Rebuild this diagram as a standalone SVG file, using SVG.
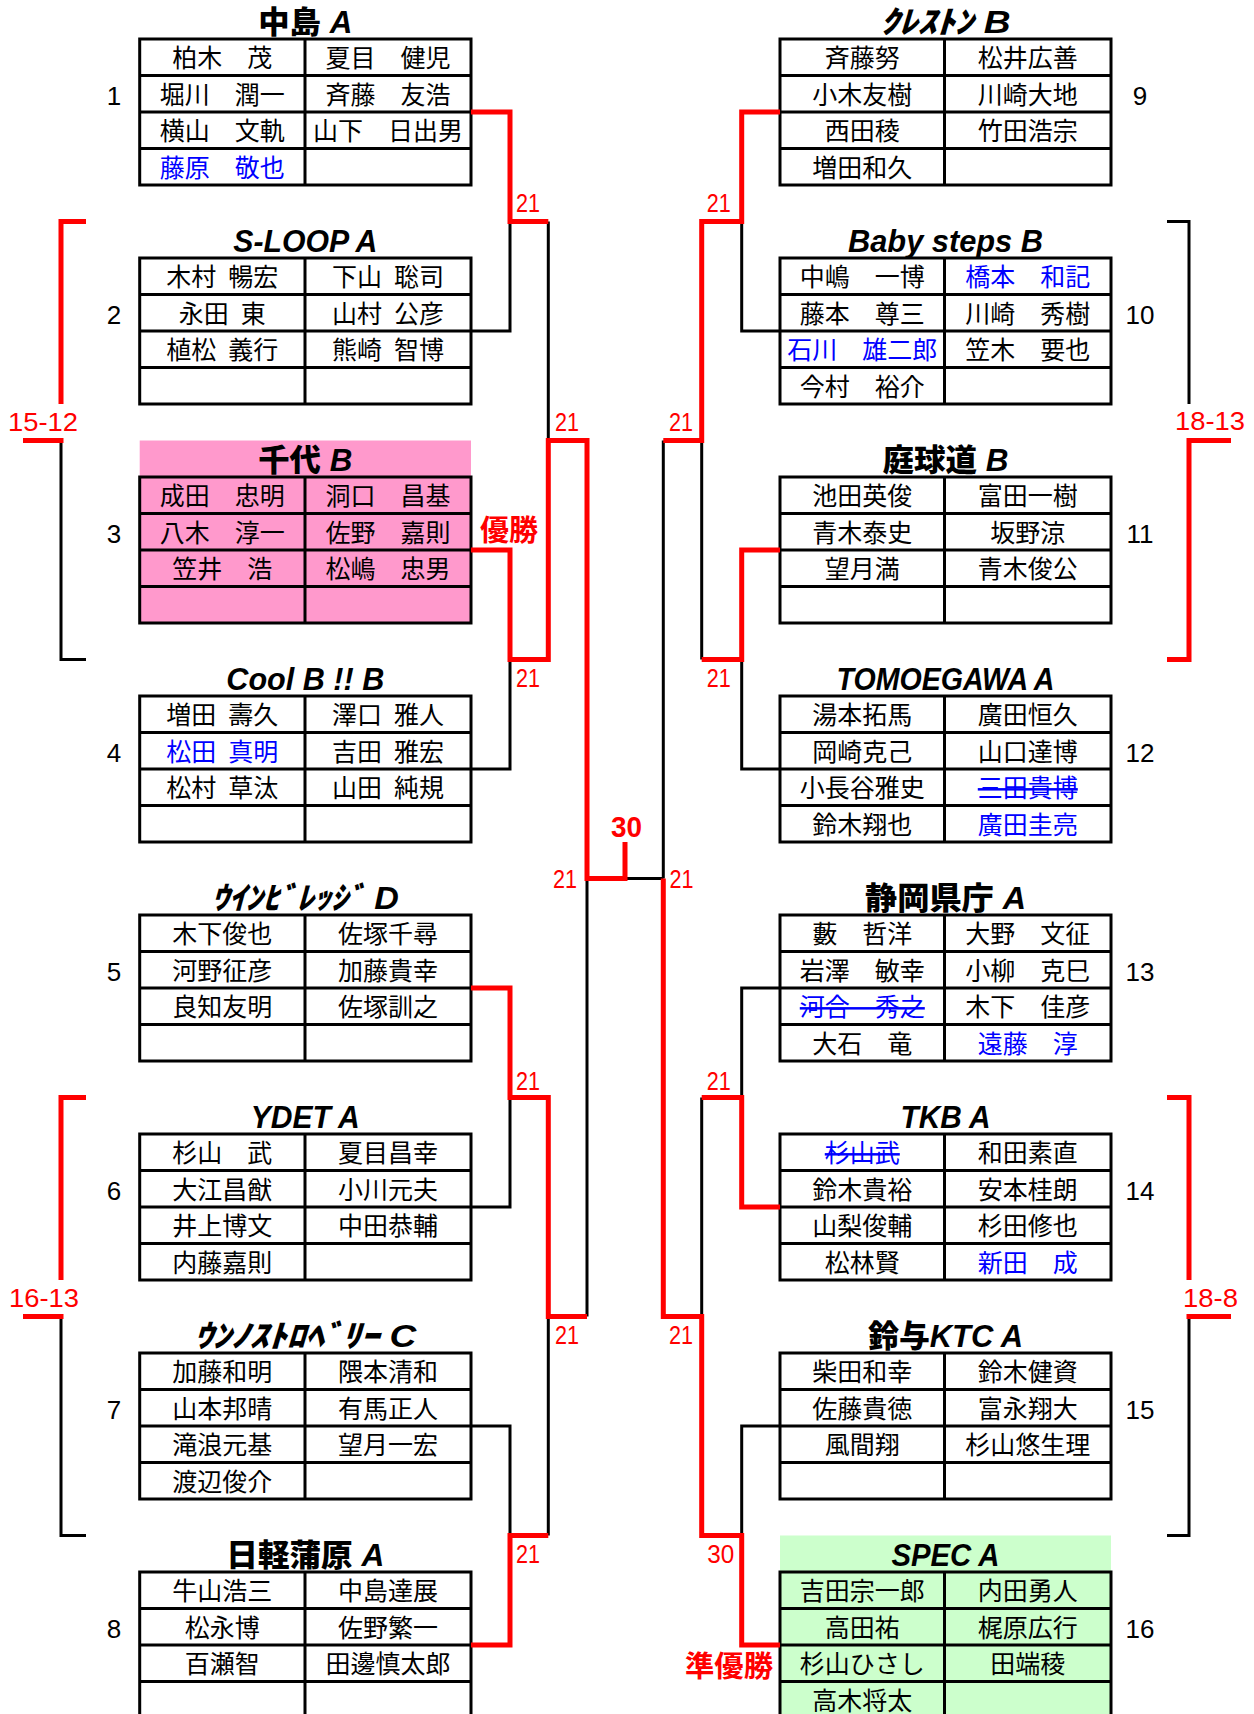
<svg xmlns="http://www.w3.org/2000/svg" width="1254" height="1714" viewBox="0 0 1254 1714">
<style>
text{font-family:"Liberation Sans","Noto Sans CJK JP",sans-serif}
.nm{font-size:25px;text-anchor:middle;fill:#000}
.bl{fill:#0000ff}
.st{text-decoration:line-through}
.hs{word-spacing:5px}
.ttl{font-size:31px;font-weight:900;text-anchor:middle;fill:#000}
.it{font-style:italic}
.num{font-size:26px;text-anchor:middle;fill:#000}
.sc{font-size:26px;fill:#ff0000;text-anchor:middle}
.scb{font-size:29px;font-weight:bold;fill:#ff0000;text-anchor:middle}
.tbl{fill:none;stroke:#000;stroke-width:3}
.bk{fill:none;stroke:#000;stroke-width:3}
.rd{fill:none;stroke:#ff0000;stroke-width:5}
</style>
<defs>
<g id="tblL"><rect x="139.7" y="39" width="331.3" height="146"/><path d="M305,39V185M139.7,75.5H471M139.7,112H471M139.7,148.5H471"/></g>
<g id="tblR"><rect x="780" y="39" width="331" height="146"/><path d="M944.5,39V185M780,75.5H1111M780,112H1111M780,148.5H1111"/></g>
</defs>
<rect width="1254" height="1714" fill="#ffffff"/>

<g id="team-1">
<text class="ttl" x="305.3" y="33" textLength="94" lengthAdjust="spacingAndGlyphs">中島 <tspan class="it">A</tspan></text>
<use href="#tblL" class="tbl"/>
<text class="num" x="114" y="105">1</text>
<text class="nm" x="222.3" y="67">柏木　茂</text><text class="nm" x="388" y="67">夏目　健児</text>
<text class="nm" x="222.3" y="103.5">堀川　潤一</text><text class="nm" x="388" y="103.5">斉藤　友浩</text>
<text class="nm" x="222.3" y="140">横山　文軌</text><text class="nm" x="388" y="140">山下　日出男</text>
<text class="nm bl" x="222.3" y="176.5">藤原　敬也</text>
</g>

<g id="team-2" transform="translate(0,219)">
<text class="ttl" x="305.3" y="33" textLength="144" lengthAdjust="spacingAndGlyphs"><tspan class="it">S-LOOP A</tspan></text>
<use href="#tblL" class="tbl"/>
<text class="num" x="114" y="105">2</text>
<text class="nm hs" x="222.3" y="67">木村 暢宏</text><text class="nm hs" x="388" y="67">下山 聡司</text>
<text class="nm hs" x="222.3" y="103.5">永田 東</text><text class="nm hs" x="388" y="103.5">山村 公彦</text>
<text class="nm hs" x="222.3" y="140">植松 義行</text><text class="nm hs" x="388" y="140">熊崎 智博</text>
</g>

<g id="team-3" transform="translate(0,438)">
<rect x="139.7" y="2.5" width="331.3" height="182.5" fill="#ff99cc"/>
<text class="ttl" x="305.3" y="33" textLength="94" lengthAdjust="spacingAndGlyphs">千代 <tspan class="it">B</tspan></text>
<use href="#tblL" class="tbl"/>
<text class="num" x="114" y="105">3</text>
<text class="nm" x="222.3" y="67">成田　忠明</text><text class="nm" x="388" y="67">洞口　昌基</text>
<text class="nm" x="222.3" y="103.5">八木　淳一</text><text class="nm" x="388" y="103.5">佐野　嘉則</text>
<text class="nm" x="222.3" y="140">笠井　浩</text><text class="nm" x="388" y="140">松嶋　忠男</text>
</g>

<g id="team-4" transform="translate(0,657)">
<text class="ttl" x="305.3" y="33" textLength="158" lengthAdjust="spacingAndGlyphs"><tspan class="it">Cool B !! B</tspan></text>
<use href="#tblL" class="tbl"/>
<text class="num" x="114" y="105">4</text>
<text class="nm hs" x="222.3" y="67">増田 壽久</text><text class="nm hs" x="388" y="67">澤口 雅人</text>
<text class="nm hs bl" x="222.3" y="103.5">松田 真明</text><text class="nm hs" x="388" y="103.5">吉田 雅宏</text>
<text class="nm hs" x="222.3" y="140">松村 草汰</text><text class="nm hs" x="388" y="140">山田 純規</text>
</g>

<g id="team-5" transform="translate(0,876)">
<text class="ttl" x="305.3" y="33" textLength="187" lengthAdjust="spacingAndGlyphs"><tspan class="it">ｳｲﾝﾋﾞﾚｯｼﾞ D</tspan></text>
<use href="#tblL" class="tbl"/>
<text class="num" x="114" y="105">5</text>
<text class="nm" x="222.3" y="67">木下俊也</text><text class="nm" x="388" y="67">佐塚千尋</text>
<text class="nm" x="222.3" y="103.5">河野征彦</text><text class="nm" x="388" y="103.5">加藤貴幸</text>
<text class="nm" x="222.3" y="140">良知友明</text><text class="nm" x="388" y="140">佐塚訓之</text>
</g>

<g id="team-6" transform="translate(0,1095)">
<text class="ttl" x="305.3" y="33" textLength="109" lengthAdjust="spacingAndGlyphs"><tspan class="it">YDET A</tspan></text>
<use href="#tblL" class="tbl"/>
<text class="num" x="114" y="105">6</text>
<text class="nm" x="222.3" y="67">杉山　武</text><text class="nm" x="388" y="67">夏目昌幸</text>
<text class="nm" x="222.3" y="103.5">大江昌猷</text><text class="nm" x="388" y="103.5">小川元夫</text>
<text class="nm" x="222.3" y="140">井上博文</text><text class="nm" x="388" y="140">中田恭輔</text>
<text class="nm" x="222.3" y="176.5">内藤嘉則</text>
</g>

<g id="team-7" transform="translate(0,1314)">
<text class="ttl" x="305.3" y="33" textLength="222" lengthAdjust="spacingAndGlyphs"><tspan class="it">ｳﾝﾉｽﾄﾛﾍﾞﾘｰ C</tspan></text>
<use href="#tblL" class="tbl"/>
<text class="num" x="114" y="105">7</text>
<text class="nm" x="222.3" y="67">加藤和明</text><text class="nm" x="388" y="67">隈本清和</text>
<text class="nm" x="222.3" y="103.5">山本邦晴</text><text class="nm" x="388" y="103.5">有馬正人</text>
<text class="nm" x="222.3" y="140">滝浪元基</text><text class="nm" x="388" y="140">望月一宏</text>
<text class="nm" x="222.3" y="176.5">渡辺俊介</text>
</g>

<g id="team-8" transform="translate(0,1533)">
<text class="ttl" x="305.3" y="33" textLength="158" lengthAdjust="spacingAndGlyphs">日軽蒲原 <tspan class="it">A</tspan></text>
<use href="#tblL" class="tbl"/>
<text class="num" x="114" y="105">8</text>
<text class="nm" x="222.3" y="67">牛山浩三</text><text class="nm" x="388" y="67">中島達展</text>
<text class="nm" x="222.3" y="103.5">松永博</text><text class="nm" x="388" y="103.5">佐野繁一</text>
<text class="nm" x="222.3" y="140">百瀬智</text><text class="nm" x="388" y="140">田邊慎太郎</text>
</g>

<g id="team-9">
<text class="ttl" x="945.5" y="33" textLength="130" lengthAdjust="spacingAndGlyphs"><tspan class="it">ｸﾚｽﾄﾝ B</tspan></text>
<use href="#tblR" class="tbl"/>
<text class="num" x="1140" y="105">9</text>
<text class="nm" x="862.3" y="67">斉藤努</text><text class="nm" x="1027.8" y="67">松井広善</text>
<text class="nm" x="862.3" y="103.5">小木友樹</text><text class="nm" x="1027.8" y="103.5">川崎大地</text>
<text class="nm" x="862.3" y="140">西田稜</text><text class="nm" x="1027.8" y="140">竹田浩宗</text>
<text class="nm" x="862.3" y="176.5">増田和久</text>
</g>

<g id="team-10" transform="translate(0,219)">
<text class="ttl" x="945.5" y="33" textLength="195" lengthAdjust="spacingAndGlyphs"><tspan class="it">Baby steps B</tspan></text>
<use href="#tblR" class="tbl"/>
<text class="num" x="1140" y="105">10</text>
<text class="nm" x="862.3" y="67">中嶋　一博</text><text class="nm bl" x="1027.8" y="67">橋本　和記</text>
<text class="nm" x="862.3" y="103.5">藤本　尊三</text><text class="nm" x="1027.8" y="103.5">川崎　秀樹</text>
<text class="nm bl" x="862.3" y="140">石川　雄二郎</text><text class="nm" x="1027.8" y="140">笠木　要也</text>
<text class="nm" x="862.3" y="176.5">今村　裕介</text>
</g>

<g id="team-11" transform="translate(0,438)">
<text class="ttl" x="945.5" y="33" textLength="126" lengthAdjust="spacingAndGlyphs">庭球道 <tspan class="it">B</tspan></text>
<use href="#tblR" class="tbl"/>
<text class="num" x="1140" y="105">11</text>
<text class="nm" x="862.3" y="67">池田英俊</text><text class="nm" x="1027.8" y="67">富田一樹</text>
<text class="nm" x="862.3" y="103.5">青木泰史</text><text class="nm" x="1027.8" y="103.5">坂野涼</text>
<text class="nm" x="862.3" y="140">望月満</text><text class="nm" x="1027.8" y="140">青木俊公</text>
</g>

<g id="team-12" transform="translate(0,657)">
<text class="ttl" x="945.5" y="33" textLength="218" lengthAdjust="spacingAndGlyphs"><tspan class="it">TOMOEGAWA A</tspan></text>
<use href="#tblR" class="tbl"/>
<text class="num" x="1140" y="105">12</text>
<text class="nm" x="862.3" y="67">湯本拓馬</text><text class="nm" x="1027.8" y="67">廣田恒久</text>
<text class="nm" x="862.3" y="103.5">岡崎克己</text><text class="nm" x="1027.8" y="103.5">山口達博</text>
<text class="nm" x="862.3" y="140">小長谷雅史</text><text class="nm bl st" x="1027.8" y="140">三田貴博</text>
<text class="nm" x="862.3" y="176.5">鈴木翔也</text><text class="nm bl" x="1027.8" y="176.5">廣田圭亮</text>
</g>

<g id="team-13" transform="translate(0,876)">
<text class="ttl" x="945.5" y="33" textLength="161" lengthAdjust="spacingAndGlyphs">静岡県庁 <tspan class="it">A</tspan></text>
<use href="#tblR" class="tbl"/>
<text class="num" x="1140" y="105">13</text>
<text class="nm" x="862.3" y="67">藪　哲洋</text><text class="nm" x="1027.8" y="67">大野　文征</text>
<text class="nm" x="862.3" y="103.5">岩澤　敏幸</text><text class="nm" x="1027.8" y="103.5">小柳　克巳</text>
<text class="nm bl st" x="862.3" y="140">河合　秀之</text><text class="nm" x="1027.8" y="140">木下　佳彦</text>
<text class="nm" x="862.3" y="176.5">大石　竜</text><text class="nm bl" x="1027.8" y="176.5">遠藤　淳</text>
</g>

<g id="team-14" transform="translate(0,1095)">
<text class="ttl" x="945.5" y="33" textLength="90" lengthAdjust="spacingAndGlyphs"><tspan class="it">TKB A</tspan></text>
<use href="#tblR" class="tbl"/>
<text class="num" x="1140" y="105">14</text>
<text class="nm bl st" x="862.3" y="67">杉山武</text><text class="nm" x="1027.8" y="67">和田素直</text>
<text class="nm" x="862.3" y="103.5">鈴木貴裕</text><text class="nm" x="1027.8" y="103.5">安本桂朗</text>
<text class="nm" x="862.3" y="140">山梨俊輔</text><text class="nm" x="1027.8" y="140">杉田修也</text>
<text class="nm" x="862.3" y="176.5">松林賢</text><text class="nm bl" x="1027.8" y="176.5">新田　成</text>
</g>

<g id="team-15" transform="translate(0,1314)">
<text class="ttl" x="945.5" y="33" textLength="155" lengthAdjust="spacingAndGlyphs">鈴与<tspan class="it">KTC A</tspan></text>
<use href="#tblR" class="tbl"/>
<text class="num" x="1140" y="105">15</text>
<text class="nm" x="862.3" y="67">柴田和幸</text><text class="nm" x="1027.8" y="67">鈴木健資</text>
<text class="nm" x="862.3" y="103.5">佐藤貴徳</text><text class="nm" x="1027.8" y="103.5">富永翔大</text>
<text class="nm" x="862.3" y="140">風間翔</text><text class="nm" x="1027.8" y="140">杉山悠生理</text>
</g>

<g id="team-16" transform="translate(0,1533)">
<rect x="780" y="2.5" width="331" height="190" fill="#ccffcc"/>
<text class="ttl" x="945.5" y="33" textLength="108" lengthAdjust="spacingAndGlyphs"><tspan class="it">SPEC A</tspan></text>
<use href="#tblR" class="tbl"/>
<text class="num" x="1140" y="105">16</text>
<text class="nm" x="862.3" y="67">吉田宗一郎</text><text class="nm" x="1027.8" y="67">内田勇人</text>
<text class="nm" x="862.3" y="103.5">高田祐</text><text class="nm" x="1027.8" y="103.5">梶原広行</text>
<text class="nm" x="862.3" y="140">杉山ひさし</text><text class="nm" x="1027.8" y="140">田端稜</text>
<text class="nm" x="862.3" y="176.5">高木将太</text>
</g>

<g id="connectors">
<path class="bk" d="M471,331H510V221.5 M471,769H510V659.5 M471,1207H510V1097.5 M471,1426H510V1535.5 M548.3,221.5V440.5 M548.3,1316.5V1535.5 M587,878.5V1316.5 M625,878.5H663.3 M780,331H741.7V221.5 M780,769H741.7V659.5 M780,988H741.7V1097.5 M780,1426H741.7V1535.5 M701.7,440.5V659.5 M701.7,1097.5V1316.5 M663.3,440.5V878.5"/>
<path class="rd" d="M471,112H510V221.5H548.3 M471,550H510V659.5H548.3V440.5H587V878.5H625V842 M471,988H510V1097.5H548.3V1316.5H587 M471,1645H510V1535.5H548.3 M780,112H741.7V221.5H701.7V440.5H663.3 M780,550H741.7V659.5H701.7 M780,1207H741.7V1097.5H701.7 M780,1645H741.7V1535.5H701.7V1316.5H663.3V878.5"/>
<path class="bk" d="M61,440.5V659.5H86 M61,1316.5V1535.5H86 M1167,221.5H1189V404 M1189,1316.5V1535.5H1167"/>
<path class="rd" d="M86,221.5H61V404 M63.5,440.5H23 M86,1097.5H61V1280 M63.5,1316.5H23 M1231,440.5H1189V659.5H1167 M1167,1097.5H1189V1280 M1186.5,1316.5H1231"/>
<text class="sc" x="528" y="212" textLength="24" lengthAdjust="spacingAndGlyphs">21</text>
<text class="sc" x="567" y="431" textLength="24" lengthAdjust="spacingAndGlyphs">21</text>
<text class="sc" x="528" y="687" textLength="24" lengthAdjust="spacingAndGlyphs">21</text>
<text class="sc" x="565" y="888" textLength="24" lengthAdjust="spacingAndGlyphs">21</text>
<text class="sc" x="528" y="1090" textLength="24" lengthAdjust="spacingAndGlyphs">21</text>
<text class="sc" x="567" y="1344" textLength="24" lengthAdjust="spacingAndGlyphs">21</text>
<text class="sc" x="528" y="1563" textLength="24" lengthAdjust="spacingAndGlyphs">21</text>
<text class="sc" x="718.7" y="212" textLength="24" lengthAdjust="spacingAndGlyphs">21</text>
<text class="sc" x="681" y="431" textLength="24" lengthAdjust="spacingAndGlyphs">21</text>
<text class="sc" x="718.7" y="687" textLength="24" lengthAdjust="spacingAndGlyphs">21</text>
<text class="sc" x="681.5" y="888" textLength="24" lengthAdjust="spacingAndGlyphs">21</text>
<text class="sc" x="718.7" y="1090" textLength="24" lengthAdjust="spacingAndGlyphs">21</text>
<text class="sc" x="681" y="1344" textLength="24" lengthAdjust="spacingAndGlyphs">21</text>
<text class="sc" x="720.7" y="1563" textLength="27" lengthAdjust="spacingAndGlyphs">30</text>
<text class="scb" x="626.5" y="836.7" textLength="31" lengthAdjust="spacingAndGlyphs">30</text>
<text class="sc" x="43" y="430.7" textLength="70" lengthAdjust="spacingAndGlyphs">15-12</text>
<text class="sc" x="44" y="1307" textLength="70" lengthAdjust="spacingAndGlyphs">16-13</text>
<text class="sc" x="1210" y="430" textLength="70" lengthAdjust="spacingAndGlyphs">18-13</text>
<text class="sc" x="1210.5" y="1307" textLength="55" lengthAdjust="spacingAndGlyphs">18-8</text>
<text class="scb" x="509" y="541" textLength="58" lengthAdjust="spacingAndGlyphs">優勝</text>
<text class="scb" x="729" y="1677" textLength="88" lengthAdjust="spacingAndGlyphs">準優勝</text>
</g>
</svg>
